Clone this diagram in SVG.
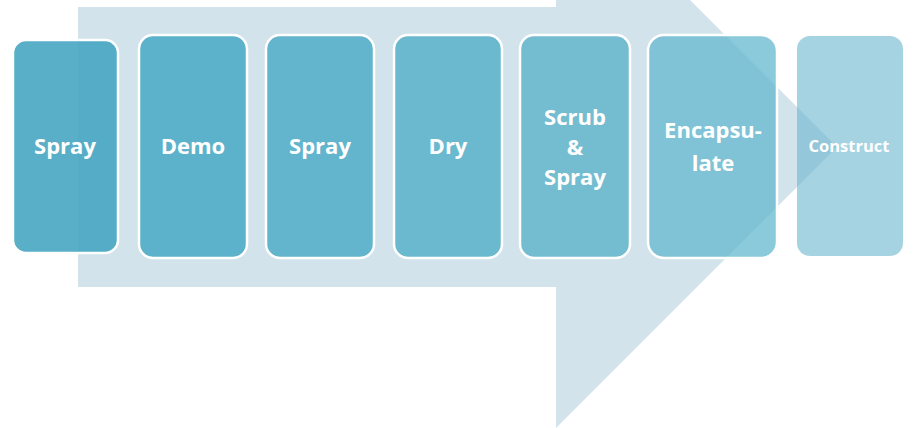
<svg xmlns="http://www.w3.org/2000/svg" width="913" height="428" viewBox="0 0 913 428">
  <style>
    .box { stroke: #ffffff; stroke-width: 2.5; }
    .lbl { font-family: "Open Sans", "Liberation Sans", sans-serif; font-weight: bold; fill: #ffffff; text-anchor: middle; font-size: 22px; }
    .small { font-size: 16.5px; }
  </style>
  <rect width="913" height="428" fill="#ffffff"/>
  <g id="arrow">
    <polygon points="78,7 556,7 556,-134 837,147 556,428 556,287 78,287" fill="#d2e3eb"/>
  </g>
  <g id="connectors"></g>
  <g id="n1">
    <rect class="box" x="13" y="40" width="105" height="213" rx="13" fill="#47a5c2" fill-opacity="0.9"/>
    <text class="lbl" x="65" y="154">Spray</text>
  </g>
  <g id="n2">
    <rect class="box" x="139" y="35" width="108" height="223" rx="14" fill="#5db2cb"/>
    <text class="lbl" x="193" y="154">Demo</text>
  </g>
  <g id="n3">
    <rect class="box" x="266" y="35" width="108" height="223" rx="14" fill="#63b5cd"/>
    <text class="lbl" x="320" y="154">Spray</text>
  </g>
  <g id="n4">
    <rect class="box" x="394" y="35" width="108" height="223" rx="14" fill="#6bb9cf"/>
    <text class="lbl" x="448" y="154">Dry</text>
  </g>
  <g id="n5">
    <rect class="box" x="520" y="35" width="110" height="223" rx="14" fill="#74bdd1"/>
    <text class="lbl" x="575" y="125">Scrub</text>
    <text class="lbl" x="575" y="155">&amp;</text>
    <text class="lbl" x="575" y="185">Spray</text>
  </g>
  <g id="n6">
    <rect class="box" x="648" y="35" width="129" height="223" rx="16" fill="#64b8cf" fill-opacity="0.75"/>
    <text class="lbl" x="713" y="138">Encapsu-</text>
    <text class="lbl" x="713" y="171">late</text>
  </g>
  <g id="n7">
    <rect x="797" y="36" width="106" height="220" rx="13" fill="#63b2cc" fill-opacity="0.57"/>
    <text class="lbl small" x="849" y="152">Construct</text>
  </g>
</svg>
